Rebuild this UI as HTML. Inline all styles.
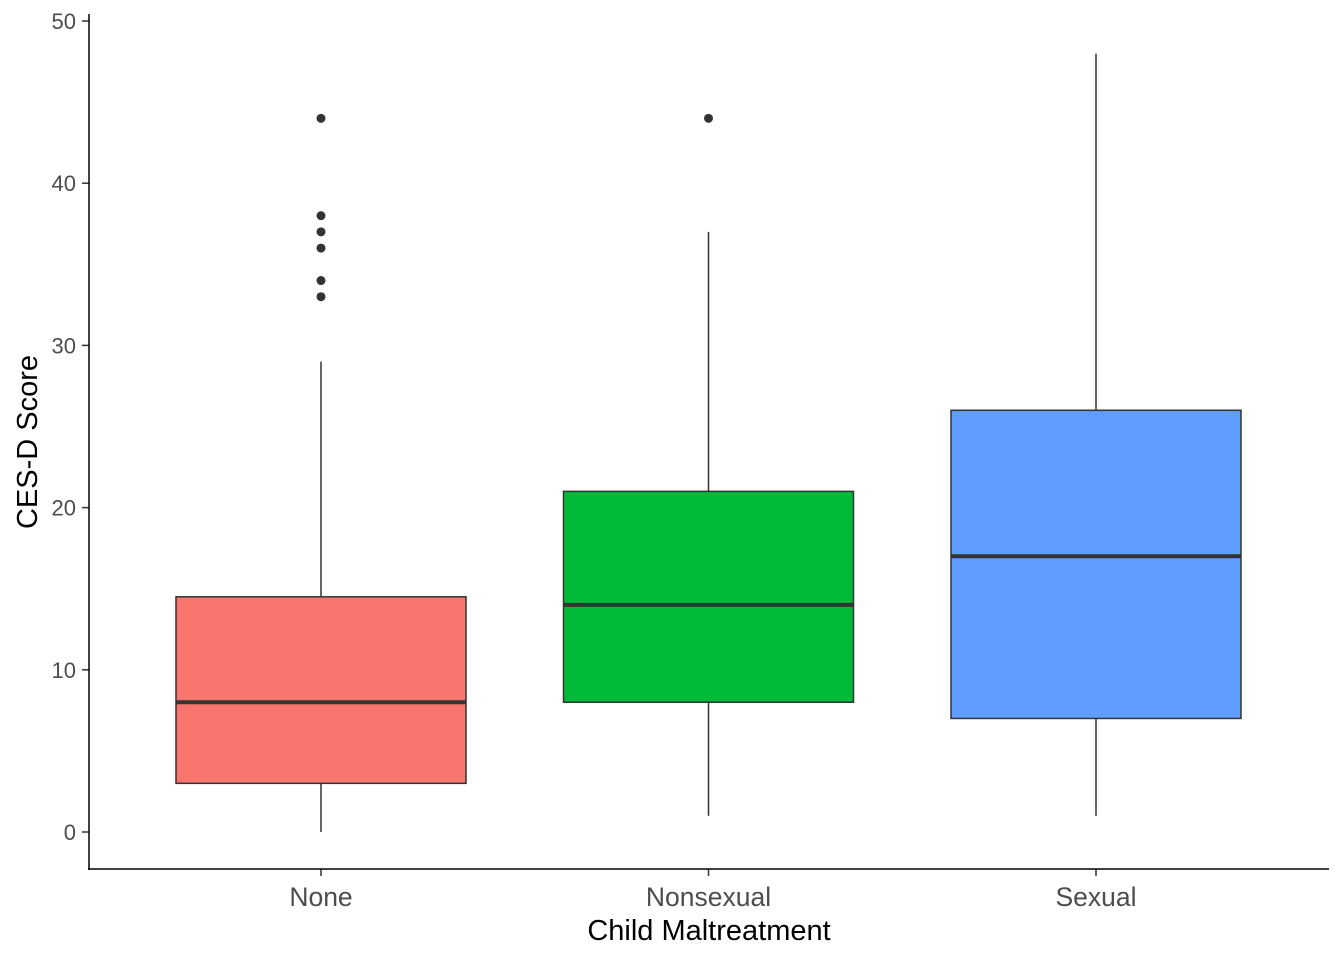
<!DOCTYPE html>
<html><head><meta charset="utf-8"><style>
body{margin:0;background:#fff;}
svg{display:block;font-family:"Liberation Sans",Arial,sans-serif;}
</style></head><body>
<svg id="chart" width="1344" height="960"></svg>
<script>
const categories=["None","Nonsexual","Sexual"];
const lowerWhisker=[0,1,1];
const q1=[3,8,7];
const medians=[8,14,17];
const q3=[14.5,21,26];
const upperWhisker=[29,37,48];
const outliers=[[33,34,36,37,38,44],[44],[]];
const yTicks=[0,10,20,30,40,50];
const colors=["#F8766D","#00BA38","#619CFF"];

const NS="http://www.w3.org/2000/svg";
const svg=document.getElementById('chart');
const y=v=>832-16.22*v;
const x=i=>321+i*387.5;
const bw=290;
function mk(tag,attrs,parent){const e=document.createElementNS(NS,tag);for(const k in attrs)e.setAttribute(k,attrs[k]);(parent||svg).appendChild(e);return e;}

categories.forEach((c,i)=>{
  const g=mk('g',{});
  
  
  const cx=x(i);
  const wu=mk('line',{x1:cx,x2:cx,y1:y(upperWhisker[i]),y2:y(q3[i]),stroke:'#333','stroke-width':1.5},g);
  
  
  const wl=mk('line',{x1:cx,x2:cx,y1:y(q1[i]),y2:y(lowerWhisker[i]),stroke:'#333','stroke-width':1.5},g);
  
  
  const r=mk('rect',{x:cx-bw/2,y:y(q3[i]),width:bw,height:y(q1[i])-y(q3[i]),fill:colors[i],stroke:'#333','stroke-width':1.5},g);
  
  
  const m=mk('line',{x1:cx-bw/2,x2:cx+bw/2,y1:y(medians[i]),y2:y(medians[i]),stroke:'#333','stroke-width':4},g);
  
  
  outliers[i].forEach(v=>{
    const p=mk('circle',{cx:cx,cy:y(v),r:4.5,fill:'#333'},g);
    
    
  });
  const t=mk('line',{x1:cx,x2:cx,y1:869,y2:876,stroke:'#333','stroke-width':1.5});
  
  
  const tl=mk('text',{x:cx,y:906,'text-anchor':'middle','font-size':26.5,fill:'#4d4d4d'});
  tl.textContent=c;
  
  
});
yTicks.forEach(v=>{
  const t=mk('line',{x1:82,x2:89,y1:y(v),y2:y(v),stroke:'#333','stroke-width':1.5});
  
  
  const tl=mk('text',{x:76,y:y(v)+8,'text-anchor':'end','font-size':22,fill:'#4d4d4d'});
  tl.textContent=v;
  
  
});
const ax=mk('line',{x1:89,x2:89,y1:14,y2:870,stroke:'#000','stroke-width':1.5});


const ax2=mk('line',{x1:88,x2:1329,y1:869,y2:869,stroke:'#000','stroke-width':1.5});


const xt=mk('text',{x:709,y:940,'text-anchor':'middle','font-size':29,fill:'#000'});
xt.textContent='Child Maltreatment';


const yt=mk('text',{x:0,y:0,'text-anchor':'middle','font-size':29,fill:'#000',transform:'translate(37,442) rotate(-90)'});
yt.textContent='CES-D Score';


</script>
</body></html>
